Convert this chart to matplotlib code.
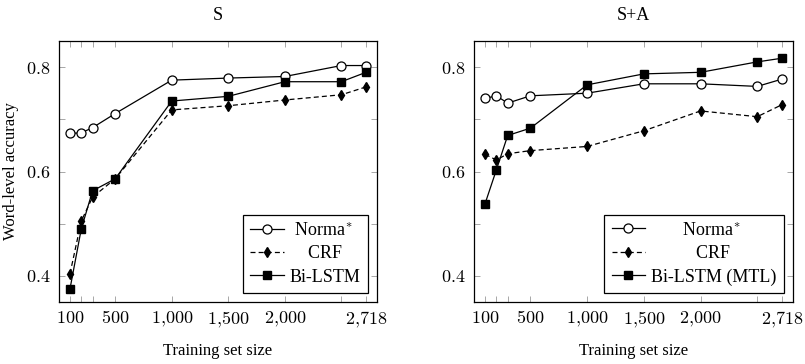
import matplotlib
matplotlib.use("Agg")
import matplotlib.pyplot as plt
from matplotlib.ticker import FixedLocator, FuncFormatter

plt.rcParams['font.family'] = ['Liberation Serif', 'DejaVu Serif']
plt.rcParams['mathtext.fontset'] = 'cm'

sizes = [100, 200, 300, 500, 1000, 1500, 2000, 2500, 2718]
tick_labels = [100, 500, 1000, 1500, 2000, 2718]

# panel S
s_norma = [0.673, 0.674, 0.684, 0.711, 0.775, 0.779, 0.782, 0.803, 0.803]
s_crf = [0.404, 0.505, 0.551, 0.586, 0.718, 0.726, 0.737, 0.747, 0.762]
s_lstm = [0.375, 0.490, 0.563, 0.586, 0.735, 0.744, 0.772, 0.772, 0.790]

# panel S+A
sa_norma = [0.740, 0.745, 0.731, 0.745, 0.750, 0.768, 0.768, 0.763, 0.777]
sa_crf = [0.633, 0.622, 0.634, 0.640, 0.648, 0.678, 0.716, 0.705, 0.728]
sa_lstm = [0.538, 0.603, 0.669, 0.683, 0.766, 0.787, 0.790, 0.810, 0.817]

def fmt_x(v, pos):
	if int(v) in tick_labels:
		return r'$%s$' % '{:,}'.format(int(v)).replace(',', '{,}')
	return ''

def fmt_y(v, pos):
	if round(v*10) % 2 == 0:
		return r'$%.1f$' % v
	return ''

def center_legend_texts(fig, leg):
	#pads labels with leading spaces so they sit centered like the pgfplots legend
	r = fig.canvas.get_renderer()
	widths = [t.get_window_extent(r).width for t in leg.get_texts()]
	t0 = leg.get_texts()[0]
	s = t0.get_text()
	t0.set_text('a')
	wa = t0.get_window_extent(r).width
	t0.set_text(' a')
	wsp = t0.get_window_extent(r).width - wa
	t0.set_text(s)
	wmax = max(widths)
	for t, w in zip(leg.get_texts(), widths):
		n = int(round((wmax - w) / 2.0 / wsp))
		t.set_text(' ' * n + t.get_text())

fig = plt.figure(figsize=(8.05, 3.64), dpi=100)
W, H = 805.0, 364.0
ax1 = fig.add_axes([59/W, 1-302/H, 318/W, 261/H])
ax2 = fig.add_axes([474/W, 1-302/H, 319/W, 261/H])

panels = [
	(ax1, 'S', s_norma, s_crf, s_lstm, 'Bi-LSTM', True),
	(ax2, 'S+A', sa_norma, sa_crf, sa_lstm, 'Bi-LSTM (MTL)', False),
]

legends = []
for ax, title, norma, crf, lstm, lstm_name, ylab in panels:
	ax.plot(sizes, norma, 'k-', marker='o', mfc='white', mec='black', ms=6.5, mew=0.9, lw=0.9, label=r'Norma$^{*}$')
	ax.plot(sizes, crf, 'k--', marker='d', mfc='black', ms=5.5, lw=0.9, dashes=(4, 2.5), label='CRF')
	ax.plot(sizes, lstm, 'k-', marker='s', mfc='black', ms=5.2, lw=0.9, label=lstm_name)

	ax.set_xlim(3, 2815)
	ax.set_ylim(0.35, 0.85)
	ax.xaxis.set_major_locator(FixedLocator(sizes))
	ax.yaxis.set_major_locator(FixedLocator([0.4, 0.5, 0.6, 0.7, 0.8]))
	ax.xaxis.set_major_formatter(FuncFormatter(fmt_x))
	ax.yaxis.set_major_formatter(FuncFormatter(fmt_y))
	ax.tick_params(direction='in', top=True, right=True, length=4, width=0.6,
		color='#999999', labelsize=13, pad=6)
	for sp in ax.spines.values():
		sp.set_linewidth(0.9)

	ax.set_title(title, fontsize=13, pad=15)
	ax.set_xlabel('Training set size', fontsize=12, labelpad=9)
	if ylab:
		ax.set_ylabel('Word-level accuracy', fontsize=12, labelpad=5)

	leg = ax.legend(loc='lower right', fontsize=13, frameon=True, fancybox=False,
		edgecolor='black', framealpha=1, handlelength=1.85, borderaxespad=0.5,
		labelspacing=0.35, handletextpad=0.35, borderpad=0.4)
	leg.get_frame().set_linewidth(0.9)
	legends.append(leg)

fig.canvas.draw()
for leg in legends:
	center_legend_texts(fig, leg)

fig.savefig('out.png', dpi=100)
